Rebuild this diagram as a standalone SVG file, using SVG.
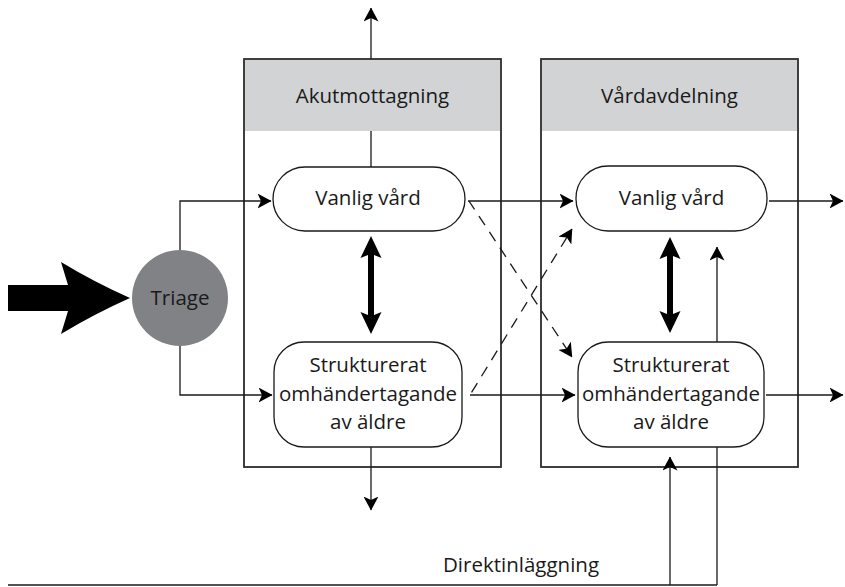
<svg xmlns="http://www.w3.org/2000/svg" width="845" height="587" viewBox="0 0 845 587">
<style>
  .box { fill: #ffffff; stroke: #333333; stroke-width: 1.5; }
  .hdr { fill: #d1d3d4; stroke: none; }
  .pill { fill: #ffffff; stroke: #1a1a1a; stroke-width: 1.3; }
  .lbl { font-family: "Open Sans", "Liberation Sans", sans-serif; font-size: 20.5px; fill: #1a1a1a; text-anchor: middle; }
  .ln { fill: none; stroke: #1a1a1a; stroke-width: 1.3; }
  .arr { marker-end: url(#ah); }
  .dash { stroke-dasharray: 11 8; }
  .thick { fill: #000000; stroke: none; }
</style>
<defs>
  <marker id="ah" viewBox="0 0 14 15" refX="13.5" refY="7.5" markerWidth="14" markerHeight="15" markerUnits="userSpaceOnUse" orient="auto">
    <path d="M0,0 L14,7.5 L0,15 L3.5,7.5 Z" fill="#000000"/>
  </marker>
</defs>

<g id="akutmottagning">
  <rect class="box" x="244" y="59" width="257" height="408"/>
  <rect class="hdr" x="245" y="60" width="255" height="71"/>
  <rect class="box" x="244" y="59" width="257" height="408" style="fill:none"/>
  <text class="lbl" x="372.5" y="103">Akutmottagning</text>
</g>
<g id="vardavdelning">
  <rect class="box" x="541" y="59" width="257" height="408"/>
  <rect class="hdr" x="542" y="60" width="255" height="71"/>
  <rect class="box" x="541" y="59" width="257" height="408" style="fill:none"/>
  <text class="lbl" x="669.5" y="103">Vårdavdelning</text>
</g>

<g id="connectors">
  <path class="ln arr" d="M371,59 V8"/>
  <path class="ln" d="M371,131 V167"/>
  <path class="ln arr" d="M180,250 V201 H271"/>
  <path class="ln arr" d="M180,346 V395 H272"/>
  <path class="ln arr" d="M371,447 V510"/>
  <path class="ln arr" d="M468,201 H573"/>
  <path class="ln arr" d="M470,395 H575"/>
  <path class="ln arr" d="M769,201 H843"/>
  <path class="ln arr" d="M766,395 H843"/>
  <path class="ln dash arr" style="stroke-dashoffset:1" d="M469,201 L572,357"/>
  <path class="ln dash arr" style="stroke-dashoffset:-3" d="M470,395 L572,229"/>
  <path class="ln" d="M8,585 H717"/>
  <path class="ln arr" d="M670,585 V457"/>
  <path class="ln arr" d="M717,585 V247"/>
  <path class="thick" d="M371,236 L381.5,258 L374,255 V315 L381.5,312 L371,334 L360.5,312 L368,315 V255 L360.5,258 Z"/>
  <path class="thick" d="M670,237 L680.5,259 L673,256 V314 L680.5,311 L670,333 L659.5,311 L667,314 V256 L659.5,259 Z"/>
  <path class="thick" d="M8,285 H68 L61,262 Q94,282 130,298 Q94,314 61,334 L68,311 H8 Z"/>
  <text class="lbl" x="521" y="572">Direktinläggning</text>
</g>

<g id="triage">
  <circle cx="180" cy="298" r="48" fill="#808285"/>
  <text class="lbl" x="180" y="305">Triage</text>
</g>
<g id="akut-vanlig">
  <rect class="pill" x="273" y="167" width="192" height="64" rx="32"/>
  <text class="lbl" x="368" y="205">Vanlig vård</text>
</g>
<g id="akut-strukturerat">
  <rect class="pill" x="274" y="342" width="188" height="105" rx="30"/>
  <text class="lbl" x="368" y="372">Strukturerat</text>
  <text class="lbl" x="368" y="401">omhändertagande</text>
  <text class="lbl" x="368" y="429">av äldre</text>
</g>
<g id="vard-vanlig">
  <rect class="pill" x="576" y="166" width="191" height="65" rx="32"/>
  <text class="lbl" x="671.5" y="205">Vanlig vård</text>
</g>
<g id="vard-strukturerat">
  <rect class="pill" x="578" y="342" width="186" height="105" rx="30"/>
  <text class="lbl" x="671" y="372">Strukturerat</text>
  <text class="lbl" x="671" y="401">omhändertagande</text>
  <text class="lbl" x="671" y="429">av äldre</text>
</g>
</svg>
